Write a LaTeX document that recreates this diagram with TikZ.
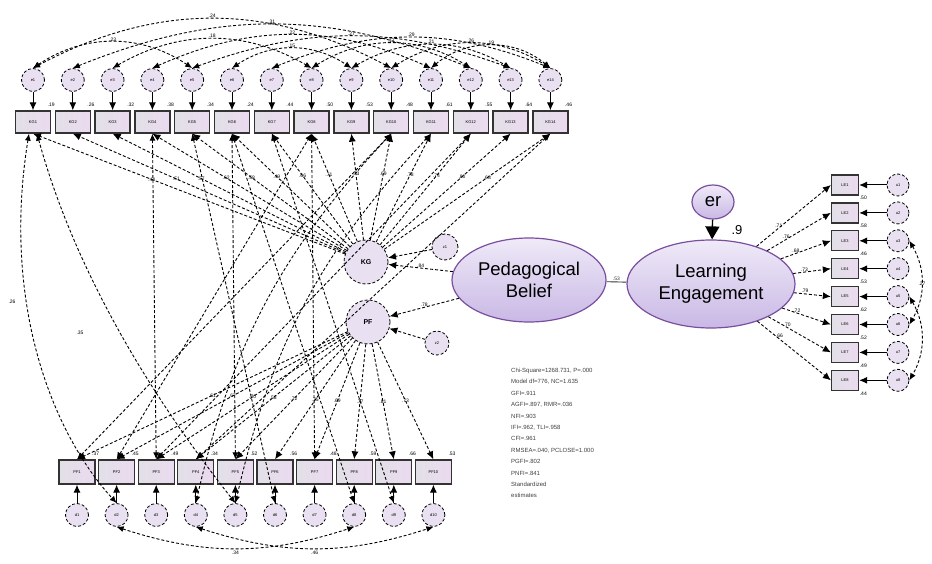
\documentclass[tikz,border=0pt]{standalone}
\usepackage{fontspec}
\setmainfont{Liberation Sans}
\usetikzlibrary{arrows.meta,shapes.geometric}

\definecolor{boxlav}{HTML}{EBDAF0}
\definecolor{boxgray}{HTML}{E2E0E7}
\definecolor{errlav}{HTML}{E9E0F1}
\definecolor{elltop}{HTML}{EFEAF8}
\definecolor{ellbot}{HTML}{C9B8E5}
\definecolor{ellline}{HTML}{7A4E9F}

\tikzset{
  obs/.style={draw=black!80, line width=1.3pt, left color=boxgray, right color=boxlav,
    minimum width=35pt, minimum height=22pt, inner sep=0pt, font=\fontsize{4}{4}\selectfont},
  errc/.style={circle, draw, densely dashed, line width=0.8pt, fill=errlav,
    minimum size=23pt, inner sep=0pt, font=\fontsize{4}{4}\selectfont},
  latc/.style={errc, minimum size=44pt, font=\fontsize{7}{7}\selectfont\bfseries},
  bigell/.style={ellipse, draw=ellline, line width=1.2pt, top color=elltop, bottom color=ellbot,
    inner sep=0pt, align=center, font=\fontsize{18.5}{22}\selectfont},
  load/.style={-{Latex[length=8pt,width=7pt]}, densely dashed, line width=0.9pt},
  res/.style={-{Latex[length=8pt,width=7pt]}, line width=1pt},
  cov/.style={{Latex[length=7pt,width=6pt]}-{Latex[length=7pt,width=6pt]}, densely dashed, line width=0.9pt},
  coef/.style={font=\fontsize{5}{5}\selectfont, inner sep=0.5pt},
}

\begin{document}
\begin{tikzpicture}[x=1pt,y=-1pt]
  \useasboundingbox (0,0) rectangle (932,564);

  % latent variables
  \node[latc] (KG) at (366,262) {KG};
  \node[latc] (PF) at (368,322) {PF};
  \node[errc, minimum size=26pt] (zKG) at (445,247) {z1};
  \node[errc, minimum size=24pt] (zPF) at (437,343) {z2};
  \node[bigell, minimum width=154pt, minimum height=84pt] (PB) at (529,280) {Pedagogical\\Belief};
  \node[bigell, minimum width=168pt, minimum height=88pt] (LE) at (711,284) {Learning\\Engagement};
  \node[bigell, minimum width=42pt, minimum height=34pt] (er) at (713,202) {er};

  % top indicators
  \foreach \i/\v/\r in {1/.44/.19,2/.51/.26,3/.57/.32,4/.62/.38,5/.58/.34,6/.49/.24,7/.66/.44,
                        8/.71/.50,9/.73/.53,10/.69/.48,11/.78/.61,12/.74/.55,13/.80/.64,14/.68/.46}{
    \pgfmathsetmacro\xx{33+39.8*(\i-1)}
    \node[obs] (t\i) at (\xx,122) {KG\i};
    \node[errc] (te\i) at (\xx,80) {e\i};
    \draw[res] (te\i) -- (t\i);
    \draw[load] (KG) -- (t\i.south) node[coef, pos=0.62] {\v};
    \node[coef, anchor=south] at ([yshift=3pt]t\i.north east) {\r};
  }

  % bottom indicators
  \foreach \j/\v/\r in {1/.61/.37,2/.67/.45,3/.70/.49,4/.58/.34,5/.72/.52,
                        6/.75/.56,7/.69/.48,8/.77/.59,9/.81/.66,10/.73/.53}{
    \pgfmathsetmacro\xx{77+39.6*(\j-1)}
    \node[obs, minimum width=36pt, minimum height=24pt] (b\j) at (\xx,472) {PF\j};
    \node[errc] (be\j) at (\xx,515) {d\j};
    \draw[res] (be\j) -- (b\j);
    \draw[load] (PF) -- (b\j.north) node[coef, pos=0.5] {\v};
    \node[coef, anchor=south] at ([yshift=3pt]b\j.north east) {\r};
  }

  % right indicators
  \foreach \k/\v/\r in {1/.71/.50,2/.76/.58,3/.68/.46,4/.73/.53,5/.79/.62,6/.72/.52,7/.70/.49,8/.66/.44}{
    \pgfmathsetmacro\yy{185+27.9*(\k-1)}
    \node[obs, minimum width=27pt, minimum height=20pt] (r\k) at (845,\yy) {LE\k};
    \node[errc, minimum size=22pt] (re\k) at (898,\yy) {u\k};
    \draw[res] (re\k) -- (r\k);
    \draw[load] (LE) -- (r\k.west) node[coef, pos=0.3, above] {\v};
    \node[coef, anchor=north west] at (r\k.south east) {\r};
  }

  % structural paths
  \draw[load] (zKG) -- (KG);
  \draw[load] (zPF) -- (PF);
  \draw[load] (PB) -- (KG) node[coef, pos=0.5, above] {.84};
  \draw[load] (PB) -- (PF) node[coef, pos=0.5, above] {.78};
  \draw[line width=0.9pt, black!80] (PB) -- (LE) node[coef, pos=0.5, above] {.53};
  \draw[-{Triangle[length=13pt,width=14pt]}, line width=1.4pt] (er) -- (LE);
  \node[font=\fontsize{13}{13}\selectfont] (erv) at (737,230) {.9};

  % error covariances, top row
  \foreach \a/\b/\g/\c in {1/10/28/.24,2/12/22/.31,3/8/30/.18,4/11/24/.22,5/13/20/.27,
                           6/9/34/.15,7/14/22/.29,9/13/30/.21,10/14/32/.26,11/14/40/.19,1/5/34/.23,8/12/32/.17}{
    \draw[cov] (te\a.north) to[bend left=\g] node[coef, above] {\c} (te\b.north);
  }

  % error covariances, bottom row
  \draw[cov] (be2.south) to[bend right=18] node[coef, below=2pt] {.34} (be8.south);
  \draw[cov] (be4.south) to[bend right=18] node[coef, below=2pt] {.46} (be10.south);

  % error covariances, right column
  \draw[cov] (re3.east) to[bend left=30] (re6.east);
  \draw[cov] (re5.east) to[bend left=30] (re8.east);
  \node[coef] (rc) at (922,284) {.27};

  % cross covariances between the two blocks
  \draw[cov] ([xshift=-4pt]t1.south) .. controls (2,300) and (50,430) .. (be2.north);
  \node[coef] (lc1) at (12,302) {.26};
  \draw[cov] ([xshift=4pt]t1.south) .. controls (80,290) and (170,420) .. (be5.north);
  \node[coef] (lc2) at (80,333) {.35};
  \foreach \a/\b in {1/10,2/8,3/12,4/14}{
    \draw[cov] (b\a.north) -- (t\b.south);
  }
  \foreach \a/\b in {5/6,6/8,7/9}{
    \draw[cov] (t\a.south) -- (be\b.north);
  }
  \foreach \a/\b in {4/3,6/5,8/7}{
    \draw[cov] (t\a.south) -- (b\b.north);
  }
  \draw[cov] (t10.south) to[bend right=15] (be4.north);
  \draw[cov] (t11.south) to[bend right=15] (be5.north);

  % fit statistics
  \node[anchor=north west, align=left, text=black!75, inner sep=0pt,
        font=\fontsize{6}{11.4}\selectfont] (fit) at (511,368)
    {Chi-Square=1268.731, P=.000\\Model df=776, NC=1.635\\GFI=.911\\AGFI=.897, RMR=.036\\NFI=.903\\
     IFI=.962, TLI=.958\\CFI=.961\\RMSEA=.040, PCLOSE=1.000\\PGFI=.802\\PNFI=.841\\Standardized\\estimates};
\end{tikzpicture}
\end{document}
